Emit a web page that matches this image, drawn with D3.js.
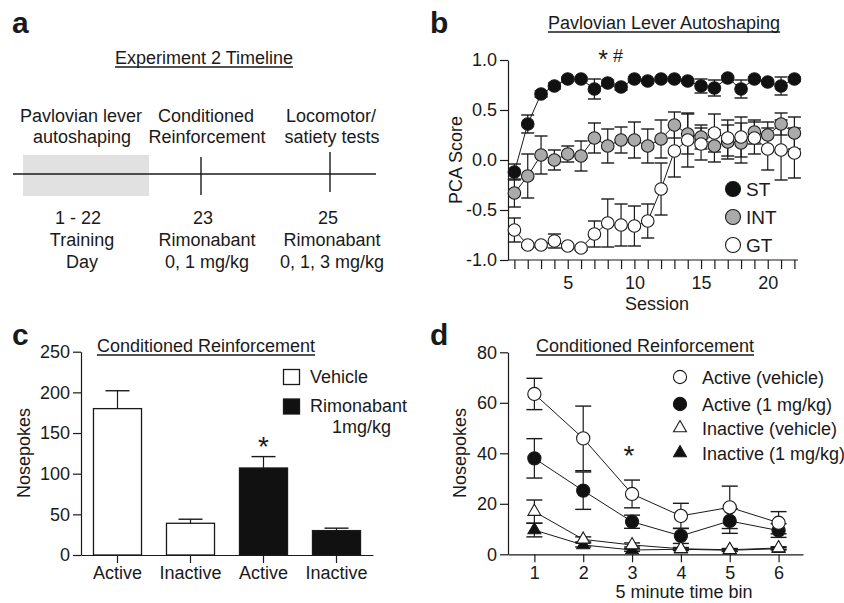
<!DOCTYPE html>
<html>
<head>
<meta charset="utf-8">
<script src="https://cdn.jsdelivr.net/npm/d3@7"></script>
<style>
body { margin: 0; background: #fff; }
svg { display: block; font-family: "Liberation Sans", Arial, sans-serif; }
text { fill: #1a1a1a; }
</style>
</head>
<body>
<div id="chart"></div>
<script>
// ---- panel a: timeline text
var phaseLine1 = ["Pavlovian lever", "Conditioned", "Locomotor/"];
var phaseLine2 = ["autoshaping", "Reinforcement", "satiety tests"];
var dayLine1 = ["1 - 22", "23", "25"];
var dayLine2 = ["Training", "Rimonabant", "Rimonabant"];
var dayLine3 = ["Day", "0, 1 mg/kg", "0, 1, 3 mg/kg"];

// ---- panel b: PCA score by session
var sessions = [1, 2, 3, 4, 5, 6, 7, 8, 9, 10, 11, 12, 13, 14, 15, 16, 17, 18, 19, 20, 21, 22];
var stMean = [-0.12, 0.36, 0.66, 0.74, 0.81, 0.81, 0.71, 0.77, 0.73, 0.81, 0.79, 0.81, 0.81, 0.79, 0.74, 0.72, 0.82, 0.71, 0.81, 0.78, 0.74, 0.81];
var stErr = [0.08, 0.09, 0.03, 0.03, 0.02, 0.02, 0.10, 0.03, 0.03, 0.02, 0.02, 0.02, 0.02, 0.02, 0.07, 0.08, 0.02, 0.09, 0.02, 0.02, 0.09, 0.02];
var intMean = [-0.33, -0.16, 0.05, 0.00, 0.06, 0.04, 0.22, 0.14, 0.20, 0.20, 0.14, 0.21, 0.35, 0.26, 0.23, 0.14, 0.18, 0.17, 0.28, 0.25, 0.36, 0.27];
var intErr = [0.14, 0.22, 0.19, 0.10, 0.08, 0.15, 0.15, 0.17, 0.13, 0.18, 0.17, 0.19, 0.13, 0.20, 0.12, 0.16, 0.17, 0.20, 0.12, 0.13, 0.11, 0.16];
var gtMean = [-0.70, -0.85, -0.85, -0.81, -0.86, -0.88, -0.74, -0.63, -0.65, -0.66, -0.61, -0.29, 0.09, 0.20, 0.16, 0.27, 0.22, 0.23, 0.22, 0.11, 0.10, 0.07];
var gtErr = [0.12, 0.02, 0.02, 0.07, 0.02, 0.02, 0.13, 0.24, 0.21, 0.20, 0.17, 0.26, 0.26, 0.27, 0.16, 0.19, 0.18, 0.20, 0.16, 0.21, 0.30, 0.25];
var pcaTicks = [-1, -0.5, 0, 0.5, 1];

// ---- panel c: nosepokes bars
var barLabels = ["Active", "Inactive", "Active", "Inactive"];
var barGroup = ["Vehicle", "Vehicle", "Rimonabant", "Rimonabant"];
var barMean = [180, 39, 107, 30];
var barErr = [22, 5, 14, 3];

// ---- panel d: nosepokes by time bin
var bins = [1, 2, 3, 4, 5, 6];
var activeVeh = [63.5, 45.9, 23.9, 15.2, 18.6, 12.5];
var activeVehErr = [6.2, 12.8, 5.5, 5.0, 8.4, 4.4];
var activeRim = [38.0, 25.2, 12.9, 7.3, 13.2, 9.4];
var activeRimErr = [7.8, 7.4, 2.6, 3.0, 4.9, 2.7];
var inactVeh = [16.9, 5.9, 3.7, 2.2, 1.8, 2.5];
var inactVehErr = [4.6, 1.0, 0.8, 0.5, 0.5, 0.5];
var inactRim = [9.6, 3.7, 1.7, 2.0, 1.6, 2.2];
var inactRimErr = [2.7, 0.8, 0.5, 0.5, 0.5, 0.5];

var ink = "#1a1a1a";
var fs = 18;

var svg = d3.select("#chart").append("svg")
    .attr("width", 844)
    .attr("height", 603);

function label(x, y, txt, anchor, size) {
    return svg.append("text")
        .attr("x", x).attr("y", y)
        .attr("text-anchor", anchor || "middle")
        .attr("font-size", size || fs)
        .text(txt);
}

// underlined panel title, line drawn by hand so its place is fixed
function title(cx, y, txt) {
    var t = label(cx, y, txt);
    var w = t.node().getComputedTextLength();
    svg.append("line")
        .attr("x1", cx - w / 2).attr("x2", cx + w / 2)
        .attr("y1", y + 3).attr("y2", y + 3)
        .attr("stroke", ink).attr("stroke-width", 1.4);
}

function panelLetter(x, y, txt) {
    label(x, y, txt, "start", 30).attr("font-weight", "bold");
}

function styleAxis(g) {
    g.attr("font-size", fs).attr("font-family", null);
    g.selectAll("path, line").attr("stroke", ink).attr("stroke-width", 1.2);
    g.selectAll("text").attr("fill", ink);
}

// error bar: vertical line with caps at both ends (or only top)
function errBar(g, x, yLo, yHi, half, topOnly) {
    g.append("line").attr("x1", x).attr("x2", x)
        .attr("y1", yLo).attr("y2", yHi)
        .attr("stroke", ink).attr("stroke-width", 1.2);
    g.append("line").attr("x1", x - half).attr("x2", x + half)
        .attr("y1", yHi).attr("y2", yHi)
        .attr("stroke", ink).attr("stroke-width", 1.4);
    if (!topOnly) {
        g.append("line").attr("x1", x - half).attr("x2", x + half)
            .attr("y1", yLo).attr("y2", yLo)
            .attr("stroke", ink).attr("stroke-width", 1.4);
    }
}

/* ================= panel a ================= */
panelLetter(12, 33, "a");
title(204, 64, "Experiment 2 Timeline");

var xa = d3.scalePoint().domain(d3.range(phaseLine1.length)).range([80, 330]);

svg.append("rect")
    .attr("x", xa(0) - 57).attr("y", 155)
    .attr("width", 126).attr("height", 41)
    .attr("fill", "#e1e1e1");
svg.append("line")
    .attr("x1", 13).attr("x2", 376).attr("y1", 174).attr("y2", 174)
    .attr("stroke", ink).attr("stroke-width", 1.4);
[1, 2].forEach(function (i) {
    svg.append("line")
        .attr("x1", xa(i) - (i === 1 ? 4 : 0)).attr("x2", xa(i) - (i === 1 ? 4 : 0))
        .attr("y1", i === 1 ? 157 : 152).attr("y2", i === 1 ? 195 : 192)
        .attr("stroke", ink).attr("stroke-width", 1.4);
});
phaseLine1.forEach(function (t, i) { label(xa(i) + 1, 122, t); });
phaseLine2.forEach(function (t, i) { label(xa(i) + 2, 143, t); });
dayLine1.forEach(function (t, i) { label(xa(i) - 2, 224, t); });
dayLine2.forEach(function (t, i) { label(xa(i) + 2, 246, t); });
dayLine3.forEach(function (t, i) { label(xa(i) + 2, 268, t); });

/* ================= panel b ================= */
panelLetter(430, 33, "b");
title(664, 29, "Pavlovian Lever Autoshaping");

var xb = d3.scaleLinear().domain([1, 22]).range([514.4, 794.4]);
var yb = d3.scaleLinear().domain([-1, 1]).range([260, 60]);

svg.append("g")
    .attr("transform", "translate(508,0)")
    .call(d3.axisLeft(yb).tickValues(pcaTicks).tickFormat(function (d) { return d.toFixed(1); })
        .tickSize(8).tickPadding(3).tickSizeOuter(0))
    .call(styleAxis);

var gxb = svg.append("g")
    .attr("transform", "translate(0,260)")
    .call(d3.axisBottom(xb).tickValues(sessions).tickFormat(function (d) { return d % 5 === 0 ? d : ""; })
        .tickSize(9).tickPadding(7).tickSizeOuter(0))
    .call(styleAxis);
gxb.select(".domain").remove();
svg.append("line").attr("x1", 508).attr("x2", 798).attr("y1", 260).attr("y2", 260)
    .attr("stroke", ink).attr("stroke-width", 1.2);

label(657, 310, "Session");
svg.append("text")
    .attr("transform", "translate(462,160) rotate(-90)")
    .attr("text-anchor", "middle").attr("font-size", fs)
    .text("PCA Score");

var groups = [
    { mean: intMean, err: intErr, fill: "#aaaaaa" },
    { mean: gtMean, err: gtErr, fill: "#ffffff" },
    { mean: stMean, err: stErr, fill: "#111111" }
];
var gb = svg.append("g");
var lineB = d3.line().x(function (d) { return xb(d[0]); }).y(function (d) { return yb(d[1]); });
groups.forEach(function (s) {
    sessions.forEach(function (x, i) {
        errBar(gb, xb(x), yb(s.mean[i] - s.err[i]), yb(s.mean[i] + s.err[i]), 6.5, false);
    });
});
groups.forEach(function (s) {
    gb.append("path")
        .datum(d3.zip(sessions, s.mean))
        .attr("d", lineB)
        .attr("fill", "none").attr("stroke", ink).attr("stroke-width", 1);
});
groups.forEach(function (s) {
    gb.selectAll(null).data(d3.zip(sessions, s.mean)).enter().append("circle")
        .attr("cx", function (d) { return xb(d[0]); })
        .attr("cy", function (d) { return yb(d[1]); })
        .attr("r", 6.3)
        .attr("fill", s.fill).attr("stroke", ink).attr("stroke-width", 1.1);
});
label(608, 68, "*", "end", 25);
label(613, 62, "#", "start", fs);

var legB = [["ST", "#111111"], ["INT", "#aaaaaa"], ["GT", "#ffffff"]];
legB.forEach(function (d, i) {
    var cy = 189 + i * 28;
    svg.append("circle").attr("cx", 733).attr("cy", cy).attr("r", 7.5)
        .attr("fill", d[1]).attr("stroke", ink).attr("stroke-width", 1.1);
    label(746, cy + 7, d[0], "start", 19);
});

/* ================= panel c ================= */
panelLetter(12, 345, "c");
title(206, 352, "Conditioned Reinforcement");

var xc = d3.scaleBand().domain(d3.range(barLabels.length)).range([81, 373])
    .paddingInner(0.342).paddingOuter(0.171);
var yc = d3.scaleLinear().domain([0, 250]).range([555, 351.7]);

var gc = svg.append("g");
barMean.forEach(function (v, i) {
    var cx = xc(i) + xc.bandwidth() / 2;
    errBar(gc, cx, yc(v), yc(v + barErr[i]), 12, true);
});
gc.selectAll("rect").data(barMean).enter().append("rect")
    .attr("x", function (d, i) { return xc(i); })
    .attr("y", function (d) { return yc(d); })
    .attr("width", xc.bandwidth())
    .attr("height", function (d) { return yc(0) - yc(d); })
    .attr("fill", function (d, i) { return barGroup[i] === "Vehicle" ? "#fff" : "#111"; })
    .attr("stroke", ink).attr("stroke-width", 1.3);

svg.append("g")
    .attr("transform", "translate(81,0)")
    .call(d3.axisLeft(yc).ticks(5).tickSize(8).tickPadding(3).tickSizeOuter(0))
    .call(styleAxis);
svg.append("g")
    .attr("transform", "translate(0,555)")
    .call(d3.axisBottom(xc).tickFormat(function (i) { return barLabels[i]; })
        .tickSize(8).tickPadding(3).tickSizeOuter(0))
    .call(styleAxis);

svg.append("text")
    .attr("transform", "translate(30,453) rotate(-90)")
    .attr("text-anchor", "middle").attr("font-size", fs)
    .text("Nosepokes");
label(xc(2) + xc.bandwidth() / 2, 456, "*", "middle", 28);

svg.append("rect").attr("x", 283.5).attr("y", 369.5).attr("width", 16).attr("height", 15)
    .attr("fill", "#fff").attr("stroke", ink).attr("stroke-width", 1.3);
label(310, 383, "Vehicle", "start");
svg.append("rect").attr("x", 283.5).attr("y", 399).attr("width", 16).attr("height", 15)
    .attr("fill", "#111").attr("stroke", ink).attr("stroke-width", 1.3);
label(310, 412, "Rimonabant", "start");
label(332, 433, "1mg/kg", "start");

/* ================= panel d ================= */
panelLetter(430, 345, "d");
title(645, 352, "Conditioned Reinforcement");

var xd = d3.scaleLinear().domain([0.46, 6.5]).range([508, 803]);
var yd = d3.scaleLinear().domain([0, 80]).range([554.3, 352.3]);

svg.append("g")
    .attr("transform", "translate(508,0)")
    .call(d3.axisLeft(yd).tickValues([0, 20, 40, 60, 80]).tickSize(8).tickPadding(3).tickSizeOuter(0))
    .call(styleAxis);
svg.append("g")
    .attr("transform", "translate(0,554.3)")
    .call(d3.axisBottom(xd).tickValues(bins).tickFormat(d3.format("d"))
        .tickSize(8).tickPadding(4).tickSizeOuter(0))
    .call(styleAxis);

svg.append("text")
    .attr("transform", "translate(466,453) rotate(-90)")
    .attr("text-anchor", "middle").attr("font-size", fs)
    .text("Nosepokes");
label(684, 598, "5 minute time bin");

var tri = d3.symbol().type(d3.symbolTriangle).size(72);
var dSeries = [
    { mean: inactRim, err: inactRimErr, fill: "#111", shape: "tri", name: "Inactive (1 mg/kg)" },
    { mean: inactVeh, err: inactVehErr, fill: "#fff", shape: "tri", name: "Inactive (vehicle)" },
    { mean: activeRim, err: activeRimErr, fill: "#111", shape: "circle", name: "Active (1 mg/kg)" },
    { mean: activeVeh, err: activeVehErr, fill: "#fff", shape: "circle", name: "Active (vehicle)" }
];
var gd = svg.append("g");
var lineD = d3.line().x(function (d) { return xd(d[0]); }).y(function (d) { return yd(d[1]); });
dSeries.forEach(function (s) {
    bins.forEach(function (x, i) {
        errBar(gd, xd(x), yd(Math.max(0, s.mean[i] - s.err[i])), yd(s.mean[i] + s.err[i]), 8, false);
    });
    gd.append("path").datum(d3.zip(bins, s.mean)).attr("d", lineD)
        .attr("fill", "none").attr("stroke", ink).attr("stroke-width", 1);
});

function marker(g, s, x, y) {
    if (s.shape === "circle") {
        g.append("circle").attr("cx", x).attr("cy", y).attr("r", 6.6)
            .attr("fill", s.fill).attr("stroke", ink).attr("stroke-width", 1.1);
    } else {
        g.append("path").attr("d", tri).attr("transform", "translate(" + x + "," + y + ")")
            .attr("fill", s.fill).attr("stroke", ink).attr("stroke-width", 1.1);
    }
}
dSeries.forEach(function (s) {
    bins.forEach(function (x, i) { marker(gd, s, xd(x), yd(s.mean[i])); });
});
label(xd(3) - 3, 465, "*", "middle", 28);

// legend order top to bottom
[3, 2, 1, 0].forEach(function (k, j) {
    var cy = [377, 404, 428, 453][j];
    marker(svg, dSeries[k], 680, cy);
    label(702, cy + 6.5, dSeries[k].name, "start");
});
</script>
</body>
</html>
